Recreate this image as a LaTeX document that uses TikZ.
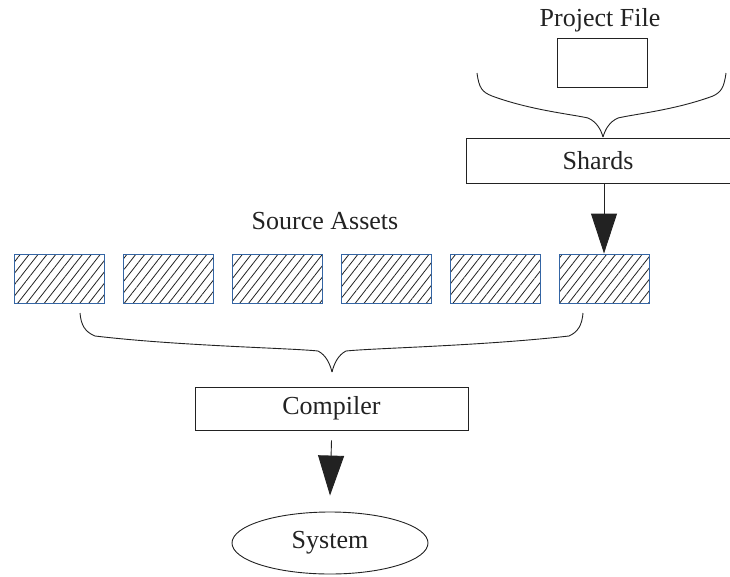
\documentclass[tikz,border=0pt]{standalone}
\usepackage{fontspec}
\setmainfont{Liberation Serif}
\usetikzlibrary{arrows.meta,shapes.geometric,patterns.meta}
\definecolor{assetblue}{HTML}{3465A4}
\definecolor{ink}{HTML}{222222}
\begin{document}
\begin{tikzpicture}[x=1pt,y=-1pt,
  every node/.style={font=\fontsize{26}{30}\selectfont, text=ink},
  plainbox/.style={draw=ink, line width=0.9pt, rectangle, inner sep=0pt},
  asset/.style={draw=assetblue, line width=0.9pt, minimum width=90pt, minimum height=49pt, inner sep=0pt,
    pattern={Lines[angle=52,distance=7pt,line width=0.8pt]}, pattern color=ink},
  bigarrow/.style={draw=ink, line width=0.9pt, -{Triangle[width=26pt,length=40pt]}},
  bracket/.style={draw=ink, line width=0.9pt}]
\useasboundingbox (0,0) rectangle (730,576);

% project file on top
\node (pflabel) at (600,20) {Project File};
\node[plainbox, minimum width=90pt, minimum height=49pt] (pf) at (602,62.5) {};

% brace gathering into the shards box
\coordinate (tb) at (603,137);
\draw[bracket] (477,73) .. controls (479,88) and (482,92) .. (492,96)
  .. controls (530,110) and (570,114) .. (588,118) .. controls (597,122) and (601,130) .. (tb);
\draw[bracket] (726,73) .. controls (724,88) and (721,92) .. (713,96)
  .. controls (675,110) and (635,114) .. (618,118) .. controls (609,122) and (605,130) .. (tb);

\node[plainbox, minimum width=264pt, minimum height=45pt] (shards) at (598,160.5) {Shards};

% source assets
\node (salabel) at (325,221) {Source Assets};
\node[asset] (a1) at (59,278.5) {};
\node[asset] (a2) at (168,278.5) {};
\node[asset] (a3) at (277,278.5) {};
\node[asset] (a4) at (386,278.5) {};
\node[asset] (a5) at (495,278.5) {};
\node[asset] (a6) at (604,278.5) {};

\draw[bigarrow] (shards.south -| a6.north) -- (a6.north);

% brace gathering into the compiler box
\coordinate (bb) at (332,372);
\draw[bracket] (80,313) .. controls (81,325) and (85,332) .. (95,336)
  .. controls (180,346) and (290,348) .. (318,351) .. controls (326,355) and (330,364) .. (bb);
\draw[bracket] (583,313) .. controls (582,325) and (578,332) .. (569,336)
  .. controls (480,346) and (375,348) .. (346,351) .. controls (338,355) and (334,364) .. (bb);

\node[plainbox, minimum width=273pt, minimum height=43pt] (comp) at (331.5,408.5) {Compiler};

\node[draw=ink, line width=0.9pt, ellipse, minimum width=196pt, minimum height=62pt, inner sep=0pt] (sys) at (330,543) {System};

% the compiler arrow stops short of both shapes
\coordinate (cstart) at ([yshift=-10pt]comp.south);
\coordinate (cend) at ([yshift=16pt]sys.north);
\draw[bigarrow] (cstart) -- (cend);
\end{tikzpicture}
\end{document}
